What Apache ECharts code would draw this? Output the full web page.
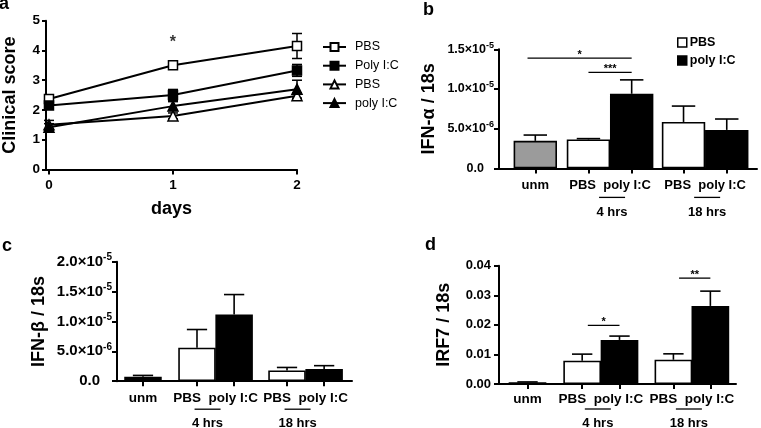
<!DOCTYPE html>
<html><head><meta charset="utf-8">
<script src="https://cdn.jsdelivr.net/npm/echarts@6/dist/echarts.min.js"></script>
<style>html,body{margin:0;padding:0;background:#fff}#c{width:761px;height:428px}</style>
</head><body><div id="c"></div>
<script>
// ---------------- Panel a data ----------------
const aDays = [0, 1, 2];
const aNames = ['PBS', 'Poly I:C', 'PBS ', 'poly I:C'];
const aPBS = [2.37, 3.50, 4.15];
const aPBSErr = [0.10, 0.12, 0.42];
const aPoly = [2.15, 2.50, 3.33];
const aPolyErr = [0.08, 0.19, 0.20];
const aPBS2 = [1.50, 1.80, 2.48];
const aPBS2Err = [0.15, 0.10, 0.10];
const aPoly2 = [1.42, 2.13, 2.70];
const aPoly2Err = [0.12, 0.15, 0.30];
const aSigDay = [1];
const aSigY = [4.25];
const aSigText = ['*'];

// ---------------- Bar panels data ----------------
const barCats = ['unm', 'PBS', 'poly I:C', 'PBS', 'poly I:C'];
const groupNames = ['4 hrs', '18 hrs'];
const legendB = ['PBS', 'poly I:C'];

const bIFNa = [3.47e-6, 3.65e-6, 9.40e-6, 5.85e-6, 4.85e-6];
const bIFNaErr = [0.73e-6, 0.10e-6, 1.75e-6, 2.00e-6, 1.37e-6];
const bSigFrom = [0, 1];
const bSigTo = [2, 2];
const bSigY = [1.39e-5, 1.21e-5];
const bSigText = ['*', '***'];

const cIFNb = [0.75e-6, 5.60e-6, 11.15e-6, 1.80e-6, 2.05e-6];
const cIFNbErr = [0.22e-6, 3.05e-6, 3.35e-6, 0.50e-6, 0.55e-6];

const dIRF7 = [0.0006, 0.0079, 0.0149, 0.0082, 0.0264];
const dIRF7Err = [0.0001, 0.0022, 0.0013, 0.0020, 0.0050];
const dSigFrom = [1, 3];
const dSigTo = [2, 4];
const dSigY = [0.0198, 0.0358];
const dSigText = ['*', '**'];

// ---------------- layout / style ----------------
const FONT = "'Liberation Sans', Arial, Helvetica, sans-serif";
const BLACK = '#000';

const panels = [
  { name: 'IFN-α / 18s', grid: 1, vals: bIFNa, errs: bIFNaErr, pos: [0, 1.23, 2.23, 3.43, 4.43], range: [-0.84, 5.13],
    barW: 43.4, fills: ['#9b9b9b', '#fff', '#000', '#fff', '#000'], yMax: 1.5e-5, yInt: 5e-6, fmt: 'sci',
    sciSize: 12.5, zeroPad: 10, xFont: 13, labelMargin: 11, gLine: 29, gText: 44, gShift: 2, nameGap: 61,
    sig: { from: bSigFrom, to: bSigTo, y: bSigY, text: bSigText }, sigStart: [-0.18, 0] },
  { name: 'IFN-β / 18s', grid: 2, vals: cIFNb, errs: cIFNbErr, pos: [0, 1.44, 2.43, 3.84, 4.83], range: [-0.693, 5.573],
    barW: 37.5, fills: ['#000', '#fff', '#000', '#fff', '#000'], yMax: 2e-5, yInt: 5e-6, fmt: 'sci',
    sciSize: 15, zeroPad: 12, xFont: 13.5, labelMargin: 10, gLine: 28, gText: 42, gShift: -8, nameGap: 69, sig: null },
  { name: 'IRF7 / 18s', grid: 3, vals: dIRF7, errs: dIRF7Err, pos: [0, 1.45, 2.44, 3.87, 4.85], range: [-0.756, 5.53],
    barW: 37.7, fills: ['#000', '#fff', '#000', '#fff', '#000'], yMax: 0.04, yInt: 0.01, fmt: 'dec',
    xFont: 13.5, labelMargin: 8, gLine: 25, gText: 39, gShift: -3, nameGap: 46,
    sig: { from: dSigFrom, to: dSigTo, y: dSigY, text: dSigText }, sigStart: [0.15, 0.15] }
];

const axisLineStyle = { show: true, onZero: false, lineStyle: { color: BLACK, width: 2 } };
const tickStyle = { show: true, inside: false, length: 5, lineStyle: { color: BLACK, width: 2 } };

function sciFmt(v) {
  if (Math.abs(v) < 1e-12) return '{z|0.0}';
  const e = Math.floor(Math.log10(v) + 1e-9);
  const m = v / Math.pow(10, e);
  return '{m|' + m.toFixed(1) + '×10}{s|' + e + '}';
}
function sciRich(size, zeroPad) {
  const sup = Math.round(size * 0.68);
  return {
    m: { fontSize: size, fontWeight: 'bold', fontFamily: FONT, color: BLACK },
    s: { fontSize: sup, fontWeight: 'bold', fontFamily: FONT, color: BLACK, padding: [0, 0, Math.round(size * 0.62), 0] },
    z: { fontSize: size, fontWeight: 'bold', fontFamily: FONT, color: BLACK, padding: [0, zeroPad, 0, 0] }
  };
}

// ---------------- build option ----------------
const grids = [
  { left: 43, top: 20.7, width: 254, height: 148.8 },
  { left: 499, top: 49.3, width: 258, height: 119.1 },
  { left: 117, top: 261.7, width: 235, height: 119.5 },
  { left: 499, top: 265.7, width: 237, height: 118.3 }
];

const xAxes = [{
  gridIndex: 0, type: 'value', min: -0.024, max: 2,
  axisLine: axisLineStyle, axisTick: Object.assign({ customValues: aDays }, tickStyle),
  axisLabel: { customValues: aDays, color: BLACK, fontWeight: 'bold', fontSize: 13.5, margin: 9, fontFamily: FONT },
  splitLine: { show: false },
  name: 'days', nameLocation: 'middle', nameGap: 31,
  nameTextStyle: { fontWeight: 'bold', fontSize: 18, color: BLACK, fontFamily: FONT }
}];
const yAxes = [{
  gridIndex: 0, type: 'value', min: 0, max: 5, interval: 1,
  axisLine: axisLineStyle, axisTick: Object.assign({}, tickStyle, { length: 4 }),
  axisLabel: { color: BLACK, fontWeight: 'bold', fontSize: 13.5, margin: 6, fontFamily: FONT },
  splitLine: { show: false },
  name: 'Clinical score', nameLocation: 'middle', nameGap: 27,
  nameTextStyle: { fontWeight: 'bold', fontSize: 18, color: BLACK, fontFamily: FONT }
}];

const series = [];

// panel a lines
const aSets = [
  { v: aPBS, e: aPBSErr, symbol: 'rect', size: 9, fill: '#fff' },
  { v: aPoly, e: aPolyErr, symbol: 'rect', size: 9, fill: '#000' },
  { v: aPBS2, e: aPBS2Err, symbol: 'triangle', size: 10, fill: '#fff' },
  { v: aPoly2, e: aPoly2Err, symbol: 'triangle', size: 10, fill: '#000' }
];
aSets.forEach((s, i) => {
  series.push({
    type: 'custom', name: 'err-a-' + i, xAxisIndex: 0, yAxisIndex: 0, z: 2,
    data: aDays.map((d, k) => [d, s.v[k] - s.e[k], s.v[k] + s.e[k]]),
    renderItem(params, api) {
      const x = api.value(0);
      const lo = api.coord([x, api.value(1)]);
      const hi = api.coord([x, api.value(2)]);
      const w = 5;
      const st = { stroke: BLACK, lineWidth: 1.5 };
      return { type: 'group', children: [
        { type: 'line', shape: { x1: lo[0], y1: lo[1], x2: hi[0], y2: hi[1] }, style: st },
        { type: 'line', shape: { x1: hi[0] - w, y1: hi[1], x2: hi[0] + w, y2: hi[1] }, style: st },
        { type: 'line', shape: { x1: lo[0] - w, y1: lo[1], x2: lo[0] + w, y2: lo[1] }, style: st }
      ] };
    }
  });
  series.push({
    type: 'line', name: aNames[i], xAxisIndex: 0, yAxisIndex: 0, z: 3,
    data: aDays.map((d, k) => [d, s.v[k]]),
    symbol: s.symbol, symbolSize: s.size, showAllSymbol: true,
    lineStyle: { color: BLACK, width: 2 },
    itemStyle: { color: s.fill, borderColor: BLACK, borderWidth: 1.5 }
  });
});
series.push({
  type: 'scatter', name: 'sig-a', xAxisIndex: 0, yAxisIndex: 0, symbolSize: 1,
  itemStyle: { color: 'rgba(0,0,0,0)' },
  data: aSigDay.map((d, i) => [d, aSigY[i], aSigText[i]]),
  label: { show: true, position: 'inside', formatter: p => p.value[2], color: BLACK, fontSize: 16, fontWeight: 'bold', fontFamily: FONT }
});

// bar panels
panels.forEach(p => {
  const gi = p.grid;
  const labelVals = [p.pos[0], (p.pos[1] + p.pos[2]) / 2, (p.pos[3] + p.pos[4]) / 2];
  const labelTexts = [barCats[0], barCats[1] + '  ' + barCats[2], barCats[3] + '  ' + barCats[4]];
  xAxes.push({
    gridIndex: gi, type: 'value', min: p.range[0], max: p.range[1],
    axisLine: axisLineStyle, axisTick: Object.assign({ customValues: p.pos }, tickStyle),
    axisLabel: {
      customValues: labelVals, margin: p.labelMargin, color: BLACK, fontWeight: 'bold', fontSize: p.xFont, fontFamily: FONT,
      formatter: v => { let best = 0; labelVals.forEach((lv, k) => { if (Math.abs(lv - v) < Math.abs(labelVals[best] - v)) best = k; }); return labelTexts[best]; }
    },
    splitLine: { show: false }
  });
  yAxes.push({
    gridIndex: gi, type: 'value', min: 0, max: p.yMax, interval: p.yInt,
    axisLine: axisLineStyle, axisTick: tickStyle,
    axisLabel: p.fmt === 'sci'
      ? { formatter: sciFmt, rich: sciRich(p.sciSize, p.zeroPad), margin: 5, align: 'right' }
      : { formatter: v => v.toFixed(2), color: BLACK, fontWeight: 'bold', fontSize: 13, margin: 8, fontFamily: FONT },
    splitLine: { show: false },
    name: p.name, nameLocation: 'middle', nameGap: p.nameGap,
    nameTextStyle: { fontWeight: 'bold', fontSize: 18, color: BLACK, fontFamily: FONT }
  });
  series.push({
    type: 'bar', name: 'bars-' + gi, xAxisIndex: gi, yAxisIndex: gi, barWidth: p.barW, z: 2,
    data: p.vals.map((v, i) => ({ value: [p.pos[i], v], itemStyle: { color: p.fills[i], borderColor: BLACK, borderWidth: 1.6 } }))
  });
  series.push({
    type: 'custom', name: 'err-' + gi, xAxisIndex: gi, yAxisIndex: gi, z: 3,
    data: p.vals.map((v, i) => [p.pos[i], v, v + p.errs[i]]),
    renderItem(params, api) {
      const x = api.value(0);
      const lo = api.coord([x, api.value(1)]);
      const hi = api.coord([x, api.value(2)]);
      const w = p.barW * 0.27;
      const st = { stroke: BLACK, lineWidth: 1.6 };
      return { type: 'group', children: [
        { type: 'line', shape: { x1: lo[0], y1: lo[1], x2: hi[0], y2: hi[1] }, style: st },
        { type: 'line', shape: { x1: hi[0] - w, y1: hi[1], x2: hi[0] + w, y2: hi[1] }, style: st }
      ] };
    }
  });
});

const option = {
  animation: false,
  backgroundColor: '#fff',
  textStyle: { fontFamily: FONT, color: BLACK },
  grid: grids,
  xAxis: xAxes,
  yAxis: yAxes,
  legend: [
    { data: aNames, orient: 'vertical', left: 317, top: 35, itemWidth: 23, itemHeight: 10, itemGap: 4.7,
      textStyle: { fontSize: 12.5, color: BLACK, lineHeight: 14, fontFamily: FONT, padding: [0, 0, 0, 4] }, selectedMode: false },
    { data: [
        { name: legendB[0], icon: 'rect', itemStyle: { color: '#fff', borderColor: BLACK, borderWidth: 1.5 } },
        { name: legendB[1], icon: 'rect', itemStyle: { color: BLACK, borderColor: BLACK, borderWidth: 1.5 } }
      ],
      orient: 'vertical', left: 672, top: 30, itemWidth: 9, itemHeight: 9, itemGap: 3,
      textStyle: { fontSize: 12.5, fontWeight: 'bold', color: BLACK, lineHeight: 15, fontFamily: FONT, padding: [0, 0, 0, -2] }, selectedMode: false }
  ],
  series: series
};

const chart = echarts.init(document.getElementById('c'), null, { renderer: 'canvas' });
chart.setOption(option);

// panel letters, significance bars and group labels (positions from the library's own axes)
const gfx = [
  { type: 'text', left: -1, top: -5, style: { text: 'a', font: 'bold 18px ' + FONT, fill: BLACK } },
  { type: 'text', left: 423, top: 1, style: { text: 'b', font: 'bold 18px ' + FONT, fill: BLACK } },
  { type: 'text', left: 2, top: 237, style: { text: 'c', font: 'bold 18px ' + FONT, fill: BLACK } },
  { type: 'text', left: 425, top: 236, style: { text: 'd', font: 'bold 18px ' + FONT, fill: BLACK } }
];
panels.forEach(p => {
  const y0 = chart.convertToPixel({ yAxisIndex: p.grid }, 0);
  groupNames.forEach((gname, k) => {
    const xc = chart.convertToPixel({ xAxisIndex: p.grid }, (p.pos[1 + 2 * k] + p.pos[2 + 2 * k]) / 2) + p.gShift;
    gfx.push({ type: 'line', shape: { x1: xc - 13, y1: y0 + p.gLine, x2: xc + 13, y2: y0 + p.gLine }, style: { stroke: BLACK, lineWidth: 1.3 } });
    gfx.push({ type: 'text', x: xc, y: y0 + p.gText, style: { text: gname, font: 'bold 13px ' + FONT, fill: BLACK, align: 'center', verticalAlign: 'middle' } });
  });
  if (p.sig) {
    p.sig.y.forEach((yv, k) => {
      const x1 = chart.convertToPixel({ xAxisIndex: p.grid }, p.pos[p.sig.from[k]] + p.sigStart[k]);
      const x2 = chart.convertToPixel({ xAxisIndex: p.grid }, p.pos[p.sig.to[k]]);
      const yy = chart.convertToPixel({ yAxisIndex: p.grid }, yv);
      gfx.push({ type: 'line', z: 10, shape: { x1: x1, y1: yy, x2: x2, y2: yy }, style: { stroke: BLACK, lineWidth: 1.3 } });
      gfx.push({ type: 'text', z: 10, x: (x1 + x2) / 2, y: yy + 2, style: { text: p.sig.text[k], font: 'bold 11px ' + FONT, fill: BLACK, align: 'center', verticalAlign: 'bottom' } });
    });
  }
});
chart.setOption({ graphic: gfx });
</script>
</body></html>
